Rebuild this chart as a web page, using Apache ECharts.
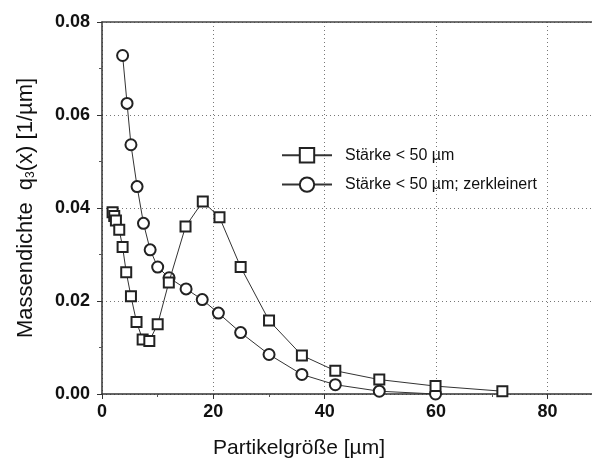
<!DOCTYPE html>
<html>
<head>
<meta charset="utf-8">
<script src="https://cdn.jsdelivr.net/npm/echarts@6/dist/echarts.min.js"></script>
<style>
  html, body { margin: 0; padding: 0; background: #fff; }
  #chart { width: 592px; height: 464px; }
</style>
</head>
<body>
<div id="chart"></div>
<script>
// Stärke < 50 µm
var xStaerke = [1.9, 2.2, 2.5, 3.1, 3.7, 4.35, 5.2, 6.2, 7.3, 8.5, 10.0, 12.0, 15.0, 18.1, 21.1, 24.9, 30.0, 35.9, 41.9, 49.8, 59.9, 71.9];
var yStaerke = [0.0391, 0.0383, 0.0373, 0.0353, 0.0316, 0.0262, 0.0210, 0.0155, 0.0117, 0.0114, 0.0150, 0.0240, 0.0360, 0.0414, 0.0380, 0.0273, 0.0158, 0.0083, 0.0050, 0.0031, 0.0017, 0.0006];

// Stärke < 50 µm; zerkleinert
var xZerkl = [3.7, 4.5, 5.2, 6.3, 7.45, 8.65, 10.0, 12.05, 15.1, 18.0, 20.9, 24.9, 30.0, 35.9, 41.9, 49.8, 59.9];
var yZerkl = [0.0728, 0.0625, 0.0536, 0.0446, 0.0367, 0.0310, 0.0273, 0.0250, 0.0226, 0.0203, 0.0174, 0.0132, 0.0085, 0.0042, 0.0020, 0.0006, 0.0000];

var seriesNames = ['Stärke < 50 µm', 'Stärke < 50 µm; zerkleinert'];

function paare(xs, ys) {
    return xs.map(function(x, i) { return [x, ys[i]]; });
}

var chartDom = document.getElementById('chart');
var myChart = echarts.init(chartDom);
var schrift = 'Liberation Sans, Arial, sans-serif';
var gitter = { show: true, lineStyle: { color: '#777', type: [1, 3], width: 1 } };
var option;

option = {
    backgroundColor: '#fff',
    animation: false,
    grid: {
        left: 102,
        right: -1,
        top: 22,
        bottom: 69
    },
    legend: {
        left: 276,
        top: 142,
        orient: 'vertical',
        itemGap: 13,
        itemWidth: 50,
        itemHeight: 18,
        textStyle: { fontFamily: schrift, fontSize: 16, color: '#111', padding: [0, 0, 0, 8] },
        data: seriesNames
    },
    xAxis: [{
        type: 'value',
        min: 0,
        max: 88,
        interval: 20,
        name: 'Partikelgröße [µm]',
        nameLocation: 'middle',
        nameGap: 44,
        nameTextStyle: { fontFamily: schrift, fontSize: 21, color: '#111', padding: [0, 96, 0, 0] },
        axisLine: { show: true, lineStyle: { color: '#333', width: 1.5 } },
        axisTick: { show: true, inside: false, length: 5, lineStyle: { color: '#333' } },
        minorTick: { show: true, splitNumber: 2, length: 3, lineStyle: { color: '#555' } },
        axisLabel: {
            fontFamily: schrift, fontSize: 18, fontWeight: 'bold', color: '#111', margin: 9,
            showMaxLabel: false
        },
        splitLine: gitter
    }, {
        type: 'value',
        position: 'top',
        min: 0,
        max: 88,
        axisLine: { show: true, onZero: false, lineStyle: { color: '#444', width: 1.5 } },
        axisTick: { show: false },
        axisLabel: { show: false },
        splitLine: { show: false }
    }],
    yAxis: {
        type: 'value',
        min: 0,
        max: 0.08,
        interval: 0.02,
        name: 'Massendichte  q{sub|3}(x) [1/µm]',
        nameLocation: 'middle',
        nameGap: 65,
        nameTextStyle: {
            fontFamily: schrift, fontSize: 22, color: '#111',
            rich: {
                sub: { fontFamily: schrift, fontSize: 12, color: '#111', verticalAlign: 'bottom', padding: [10, 0, 0, 0] }
            }
        },
        axisLine: { show: true, lineStyle: { color: '#333', width: 1.5 } },
        axisTick: { show: true, inside: false, length: 5, lineStyle: { color: '#333' } },
        minorTick: { show: true, splitNumber: 2, length: 3, lineStyle: { color: '#555' } },
        axisLabel: {
            fontFamily: schrift, fontSize: 18, fontWeight: 'bold', color: '#111', margin: 12,
            formatter: function(v) { return v.toFixed(2); }
        },
        splitLine: gitter
    },
    series: [{
        name: seriesNames[0],
        type: 'line',
        data: paare(xStaerke, yStaerke),
        symbol: 'emptyRect',
        symbolSize: 10,
        color: '#222',
        lineStyle: { color: '#333', width: 1 },
        itemStyle: { color: '#222', borderColor: '#222', borderWidth: 1 },
        z: 3
    }, {
        name: seriesNames[1],
        type: 'line',
        data: paare(xZerkl, yZerkl),
        symbol: 'emptyCircle',
        symbolSize: 11,
        color: '#222',
        lineStyle: { color: '#333', width: 1 },
        itemStyle: { color: '#222', borderColor: '#222', borderWidth: 1 },
        z: 2
    }]
};

option && myChart.setOption(option);
</script>
</body>
</html>
